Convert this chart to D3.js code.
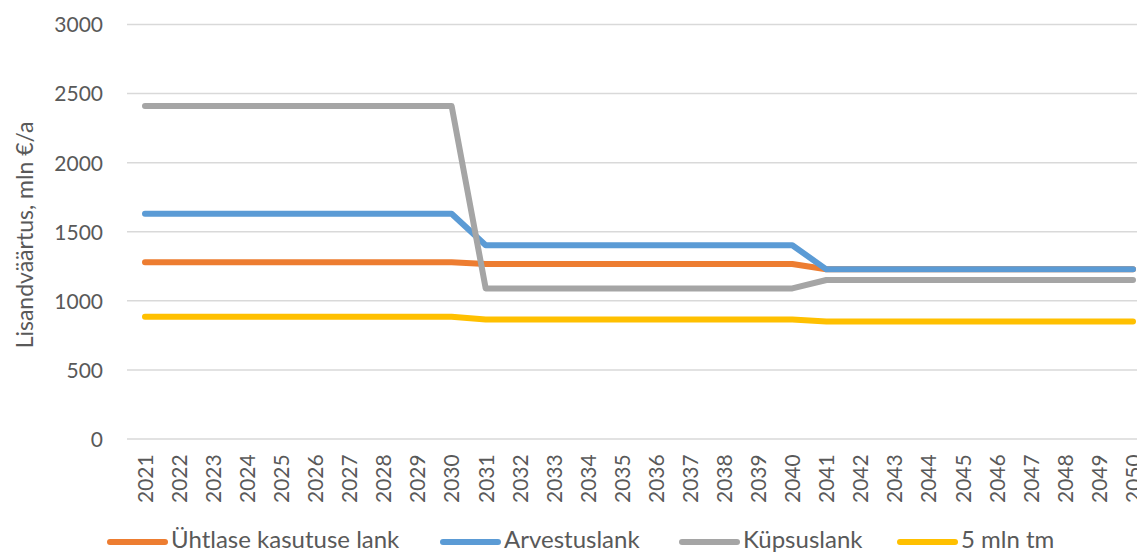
<!DOCTYPE html>
<html><head><meta charset="utf-8">
<script src="https://cdn.jsdelivr.net/npm/d3@7"></script>
<style>body{margin:0;background:#fff;overflow:hidden}svg{display:block}text{font-family:Lato,"Open Sans",sans-serif;fill:#595959}</style>
</head><body><svg id="c" width="1137" height="552"></svg>
<script>
const years = d3.range(2021, 2051).map(String);
const seriesNames = ["Ühtlase kasutuse lank","Arvestuslank","Küpsuslank","5 mln tm"];
const seriesColors = ["#ed7d31","#5b9bd5","#a5a5a5","#ffc000"];
const uhtlase = [1279,1279,1279,1279,1279,1279,1279,1279,1279,1279,1267,1267,1267,1267,1267,1267,1267,1267,1267,1267,1228,1228,1228,1228,1228,1228,1228,1228,1228,1228];
const arvestus = [1630,1630,1630,1630,1630,1630,1630,1630,1630,1630,1402,1402,1402,1402,1402,1402,1402,1402,1402,1402,1228,1228,1228,1228,1228,1228,1228,1228,1228,1228];
const kypsus = [2410,2410,2410,2410,2410,2410,2410,2410,2410,2410,1090,1090,1090,1090,1090,1090,1090,1090,1090,1090,1151,1151,1151,1151,1151,1151,1151,1151,1151,1151];
const mln5 = [885,885,885,885,885,885,885,885,885,885,865,865,865,865,865,865,865,865,865,865,851,851,851,851,851,851,851,851,851,851];
const yTicks = [0,500,1000,1500,2000,2500,3000];
const yLabel = "Lisandväärtus, mln €/a";
const seriesValues = [uhtlase, arvestus, kypsus, mln5];

const svg = d3.select("#c");
const x = d3.scalePoint().domain(years).range([145, 1133]);
const y = d3.scaleLinear().domain([0,3000]).range([439, 24.5]);

svg.append("g").selectAll("line").data(yTicks).join("line")
  .attr("x1",127).attr("x2",1137).attr("y1",d=>y(d)).attr("y2",d=>y(d))
  .attr("stroke","#d9d9d9").attr("stroke-width",1.5);

const yAxis = d3.axisLeft(y).tickValues(yTicks).tickFormat(d3.format("d")).tickSize(0).tickPadding(0);
const gy = svg.append("g").attr("transform","translate(103,0)").call(yAxis);
gy.select(".domain").remove();
gy.selectAll("text").attr("font-size",21).style("font-family","Lato").attr("fill","#595959").attr("dy","0.35em");

const xAxis = d3.axisBottom(x).tickSize(0).tickPadding(0);
const gx = svg.append("g").attr("transform","translate(0,455)").call(xAxis);
gx.select(".domain").remove();
gx.selectAll(".tick text").attr("font-size",21).style("font-family","Lato").attr("fill","#595959")
  .attr("x",0).attr("y",0).attr("dy","0.35em")
  .attr("transform","rotate(-90) translate(-48,0)").attr("text-anchor","start");

svg.append("text").attr("transform","translate(25,235) rotate(-90)").attr("text-anchor","middle")
  .attr("dy","0.35em").attr("font-size",23).text(yLabel);

const line = d3.line().x((d,i)=>x(years[i])).y(d=>y(d));
svg.append("g").selectAll("path").data(seriesValues).join("path")
  .attr("d",line).attr("fill","none").attr("stroke",(d,i)=>seriesColors[i])
  .attr("stroke-width",6).attr("stroke-linecap","round").attr("stroke-linejoin","round");

const legX = [110, 443, 682, 900];
const lg = svg.append("g").selectAll("g").data(seriesNames).join("g")
  .attr("transform",(d,i)=>`translate(${legX[i]},542)`);
lg.append("line").attr("x1",0).attr("x2",55).attr("y1",0).attr("y2",0)
  .attr("stroke",(d,i)=>seriesColors[i]).attr("stroke-width",6).attr("stroke-linecap","round");
lg.append("text").attr("x",61).attr("y",6).attr("font-size",24).text(d=>d);
</script></body></html>
